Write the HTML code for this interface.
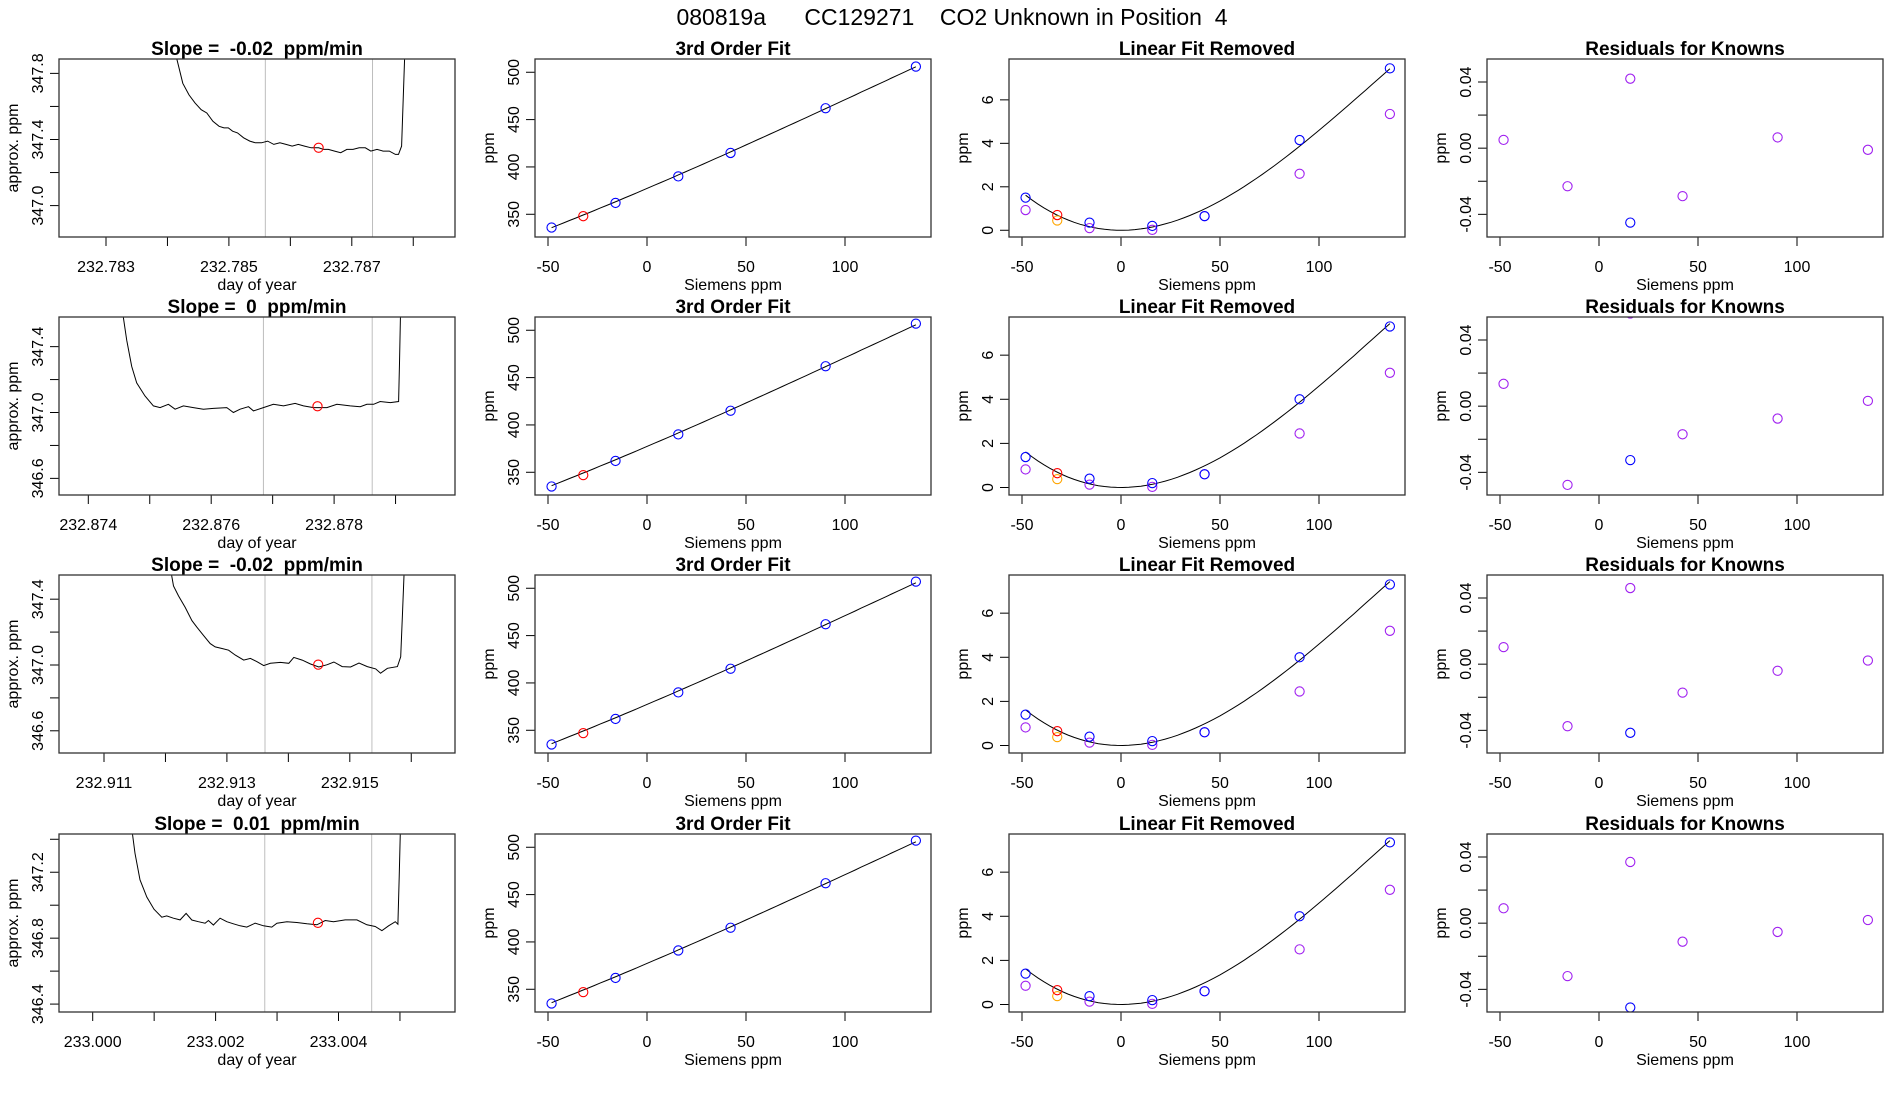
<!DOCTYPE html>
<html><head><meta charset="utf-8"><title>080819a CC129271 CO2 Unknown in Position 4</title>
<style>
html,body{margin:0;padding:0;background:#fff;}
svg{display:block;font-family:"Liberation Sans",Arial,sans-serif;}
text{white-space:pre;}
</style></head>
<body>
<svg id="fig" width="1900" height="1100" viewBox="0 0 1900 1100" xmlns="http://www.w3.org/2000/svg">
<text x="952" y="25" font-size="23" text-anchor="middle" xml:space="preserve">080819a      CC129271    CO2 Unknown in Position  4</text>
</svg>
<script>
// ---------- data ----------
const slopeTitles = ["Slope =  -0.02  ppm/min","Slope =  0  ppm/min","Slope =  -0.02  ppm/min","Slope =  0.01  ppm/min"];
const dayBase = [232.783, 232.874, 232.911, 233.000];
const dayTickLabels = [["232.783","232.785","232.787"],["232.874","232.876","232.878"],["232.911","232.913","232.915"],["233.000","233.002","233.004"]];
// trace times in units of 1e-4 day after dayBase
const traceT1 = [11.5,12.5,13.5,14.5,15.5,16.4,17.4,18.4,19.2,19.9,20.6,21.4,22.4,23.4,24.3,25.3,26.3,27.3,28.3,29.3,30.3,31.3,32.3,33.4,34.6,35.4,36.2,37.2,38.2,39.2,40.2,41.2,42.2,43.1,44.1,45.1,46.1,47.1,47.6,48.1,48.6];
const traceY1 = [347.89,347.74,347.67,347.62,347.58,347.56,347.51,347.48,347.47,347.47,347.45,347.44,347.41,347.39,347.38,347.38,347.39,347.37,347.38,347.37,347.36,347.37,347.36,347.35,347.35,347.34,347.34,347.33,347.32,347.34,347.34,347.35,347.35,347.33,347.34,347.33,347.33,347.31,347.31,347.36,347.89];
const traceT2 = [5.7,6.25,7.07,7.88,9.23,10.59,11.68,13.04,14.12,15.48,17.1,18.73,20.36,22.54,23.62,24.71,26.07,26.88,28.5,30.13,31.76,33.66,35.02,36.64,38.83,40.45,42.62,44.25,45.34,46.42,47.51,49.14,50.49,50.65,50.8];
const traceY2 = [347.58,347.44,347.28,347.18,347.10,347.04,347.03,347.05,347.02,347.04,347.03,347.02,347.025,347.03,347.0,347.02,347.035,347.01,347.03,347.05,347.04,347.055,347.04,347.03,347.03,347.05,347.04,347.035,347.05,347.05,347.067,347.06,347.067,347.3,347.6];
const traceT3 = [10.93,11.31,12.13,13.21,14.3,15.1,16.2,17.29,18.1,19.2,20.28,21.37,22.73,23.82,24.9,25.99,27.08,28.71,30.07,30.89,32.25,33.6,34.96,36.32,37.41,38.77,40.13,41.49,42.85,44.21,45.02,46.12,47.75,48.29,48.56,48.83];
const traceY3 = [347.56,347.48,347.42,347.35,347.27,347.23,347.18,347.13,347.11,347.10,347.09,347.06,347.03,347.04,347.02,346.996,347.01,347.016,347.01,347.046,347.03,347.006,346.988,347.002,347.018,346.99,346.988,347.012,346.99,346.976,346.95,346.98,346.99,347.05,347.3,347.56];
const traceT4 = [6.45,6.89,7.7,8.8,9.98,11.24,12.05,13.13,14.22,15.2,16.12,17.2,18.29,18.83,19.64,20.73,21.82,22.9,23.99,25.08,26.43,27.79,29.15,29.97,31.6,33.22,34.85,36.48,37.83,39.19,41.09,42.99,44.62,45.98,47.07,48.15,49.24,49.67,49.88,50.05];
const traceY4 = [347.44,347.315,347.154,347.05,346.976,346.927,346.935,346.921,346.911,346.95,346.91,346.9,346.891,346.907,346.88,346.921,346.9,346.887,346.875,346.867,346.891,346.875,346.867,346.891,346.9,346.895,346.887,346.881,346.907,346.9,346.911,346.911,346.881,346.871,346.846,346.875,346.9,346.885,347.17,347.44];
const redT = [34.6, 37.3, 34.86, 36.65];
const redY = [347.35, 347.038, 347.002, 346.893];
const vlineT = [[25.93,43.37],[28.5,46.2],[26.2,43.6],[28.0,45.4]];
const traceYTicks = [[347.0,347.2,347.4,347.6,347.8],[346.6,346.8,347.0,347.2,347.4],[346.6,346.8,347.0,347.2,347.4],[346.4,346.6,346.8,347.0,347.2,347.4]];
const traceYLabels = [["347.0","","347.4","","347.8"],["346.6","","347.0","","347.4"],["346.6","","347.0","","347.4"],["346.4","","346.8","","347.2",""]];
const traceYRange = [[346.81,347.887],[346.499,347.58],[346.465,347.547],[346.352,347.432]];

const siemensX = [-48.2,-15.9,15.8,42.2,90.2,135.8];
const unknownX = -32.2;
const fitPPM = [[336,362,390,414.8,462,506],[335,362,390,415,462,507],[335,362,390,415,462,507],[335,362,391,415,462,507]];
const unknownPPM = [348, 347, 347, 347];
const fitCoef = [377.25, 0.892, 0.000618, -1.584e-6];
const linBlue = [[1.5,0.35,0.2,0.65,4.15,7.45],[1.38,0.4,0.2,0.6,4.0,7.3],[1.4,0.4,0.2,0.6,4.0,7.3],[1.4,0.38,0.2,0.6,4.0,7.35]];
const linPurple = [[0.93,0.1,0.02,0.65,2.6,5.35],[0.82,0.13,0.03,0.6,2.45,5.2],[0.82,0.13,0.03,0.6,2.45,5.2],[0.85,0.13,0.03,0.6,2.5,5.2]];
const linRed = [0.7, 0.65, 0.65, 0.65];
const linOrange = [0.45, 0.38, 0.38, 0.38];
const linYRange = [[-0.31,7.88],[-0.34,7.73],[-0.34,7.73],[-0.34,7.73]];
const resPurple = [[0.005,-0.023,0.042,-0.029,0.0065,-0.001],[0.0135,-0.0476,0.056,-0.017,-0.0075,0.0032],[0.0103,-0.0375,0.046,-0.0172,-0.004,0.0022],[0.009,-0.032,0.037,-0.0112,-0.0053,0.0019]];
const resBlue = [-0.045,-0.0326,-0.0415,-0.051];
const resBlueX = 15.8;

// ---------- layout ----------
const NS = "http://www.w3.org/2000/svg";
const svg = document.getElementById("fig");
const colL = [59,535,1009,1487], W = 396;
const rowT = [59,317,575,834], H = 178;
function el(tag, attrs, parent){const e=document.createElementNS(NS,tag);for(const k in attrs)e.setAttribute(k,attrs[k]);(parent||svg).appendChild(e);return e;}
function txt(s, attrs, parent){const e=el("text",attrs,parent);e.textContent=s;return e;}

function makePanel(r,c,title,xr,yr,xticks,xlabels,yticks,ylabels,xtitle,ytitle,name){
  const g = el("g",{});
  
  
  const L=colL[c], T=rowT[r];
  const sx=v=>L+(v-xr[0])/(xr[1]-xr[0])*W;
  const sy=v=>T+H-(v-yr[0])/(yr[1]-yr[0])*H;
  const t=txt(title,{x:L+W/2,y:T-4,"font-size":19,"font-weight":"bold","text-anchor":"middle"},g);
  
  
  xticks.forEach((v,i)=>{
    el("line",{x1:sx(v),x2:sx(v),y1:T+H,y2:T+H+9,stroke:"#000","stroke-width":1},g);
    if(xlabels[i]){const l=txt(xlabels[i],{x:sx(v),y:T+H+35,"font-size":16,"text-anchor":"middle"},g);
      
      }
  });
  yticks.forEach((v,i)=>{
    el("line",{x1:L-9,x2:L,y1:sy(v),y2:sy(v),stroke:"#000","stroke-width":1},g);
    if(ylabels[i]){const l=txt(ylabels[i],{x:L-16,y:sy(v),"font-size":16,"text-anchor":"middle",transform:`rotate(-90 ${L-16} ${sy(v)})`},g);
      
      }
  });
  const xt=txt(xtitle,{x:L+W/2,y:T+H+53,"font-size":16,"text-anchor":"middle"},g);
  
  
  const yx=L-41, yy=T+H/2;
  const yt=txt(ytitle,{x:yx,y:yy,"font-size":16,"text-anchor":"middle",transform:`rotate(-90 ${yx} ${yy})`},g);
  
  
  const clipId="clip"+r+"_"+c;
  const cp=el("clipPath",{id:clipId},g); el("rect",{x:L,y:T,width:W,height:H},cp);
  const plot=el("g",{"clip-path":`url(#${clipId})`},g);
  const box=el("rect",{x:L,y:T,width:W,height:H,fill:"none",stroke:"#333","stroke-width":1.3},g);
  
  
  return {g,plot,sx,sy};
}
function circle(p,x,y,color,name){
  const c=el("circle",{cx:p.sx(x),cy:p.sy(y),r:4.6,fill:"none",stroke:color,"stroke-width":1.1},p.plot);
  
  
}

const traceTs=[traceT1,traceT2,traceT3,traceT4], traceYs=[traceY1,traceY2,traceY3,traceY4];
const PX_PER_U = 6.145;
const firstTickPx = [106, 88.3, 104, 92.7];
const BLUE="#0000ff", RED="#ff0000", ORANGE="#ffa500", PURPLE="#a020f0";

for(let r=0;r<4;r++){
  // Panel 1: trace
  const u0=(colL[0]-firstTickPx[r])/PX_PER_U, u1=u0+W/PX_PER_U;
  const p1=makePanel(r,0,slopeTitles[r],[u0,u1],traceYRange[r],[0,10,20,30,40,50],
    [dayTickLabels[r][0],"",dayTickLabels[r][1],"",dayTickLabels[r][2],""],traceYTicks[r],traceYLabels[r],"day of year","approx. ppm","trace-panel-"+(r+1));
  vlineT[r].forEach(v=>{const l=el("line",{x1:p1.sx(v),x2:p1.sx(v),y1:rowT[r],y2:rowT[r]+H,stroke:"#bebebe","stroke-width":1},p1.plot);
    
    });
  const pts=traceTs[r].map((t,i)=>p1.sx(t).toFixed(1)+","+p1.sy(traceYs[r][i]).toFixed(1)).join(" ");
  const pl=el("polyline",{points:pts,fill:"none",stroke:"#000","stroke-width":1},p1.plot);
  
  
  circle(p1,redT[r],redY[r],RED,"mean-point");

  // Panel 2: 3rd order fit
  const xr=[-50-13/1.98,-50+(W-13)/1.98];
  const p2=makePanel(r,1,"3rd Order Fit",xr,[326,514],[-50,0,50,100],["-50","0","50","100"],[350,400,450,500],["350","400","450","500"],"Siemens ppm","ppm","fit-panel-"+(r+1));
  let fp=[];
  for(let i=0;i<=60;i++){const x=siemensX[0]+(siemensX[5]-siemensX[0])*i/60;
    const y=fitCoef[0]+fitCoef[1]*x+fitCoef[2]*x*x+fitCoef[3]*x*x*x; fp.push(p2.sx(x).toFixed(1)+","+p2.sy(y).toFixed(1));}
  const fl=el("polyline",{points:fp.join(" "),fill:"none",stroke:"#000","stroke-width":1},p2.plot);
  
  
  siemensX.forEach((x,i)=>circle(p2,x,fitPPM[r][i],BLUE,"standard-point"));
  circle(p2,unknownX,unknownPPM[r],RED,"unknown-point");

  // Panel 3: linear fit removed
  const p3=makePanel(r,2,"Linear Fit Removed",xr,linYRange[r],[-50,0,50,100],["-50","0","50","100"],[0,2,4,6],["0","2","4","6"],"Siemens ppm","ppm","linear-removed-panel-"+(r+1));
  fp=[];
  for(let i=0;i<=60;i++){const x=siemensX[0]+(siemensX[5]-siemensX[0])*i/60;
    const y=fitCoef[2]*x*x+fitCoef[3]*x*x*x; fp.push(p3.sx(x).toFixed(1)+","+p3.sy(y).toFixed(1));}
  const cl=el("polyline",{points:fp.join(" "),fill:"none",stroke:"#000","stroke-width":1},p3.plot);
  
  
  siemensX.forEach((x,i)=>circle(p3,x,linPurple[r][i],PURPLE,"assigned-point"));
  siemensX.forEach((x,i)=>circle(p3,x,linBlue[r][i],BLUE,"standard-point"));
  circle(p3,unknownX,linOrange[r],ORANGE,"unknown-alt-point");
  circle(p3,unknownX,linRed[r],RED,"unknown-point");

  // Panel 4: residuals
  const p4=makePanel(r,3,"Residuals for Knowns",xr,[-0.0537,0.0539],[-50,0,50,100],["-50","0","50","100"],[-0.04,-0.02,0,0.02,0.04],["-0.04","","0.00","","0.04"],"Siemens ppm","ppm","residuals-panel-"+(r+1));
  siemensX.forEach((x,i)=>circle(p4,x,resPurple[r][i],PURPLE,"residual-point"));
  circle(p4,resBlueX,resBlue[r],BLUE,"residual-blue-point");
}
</script>
</body></html>
